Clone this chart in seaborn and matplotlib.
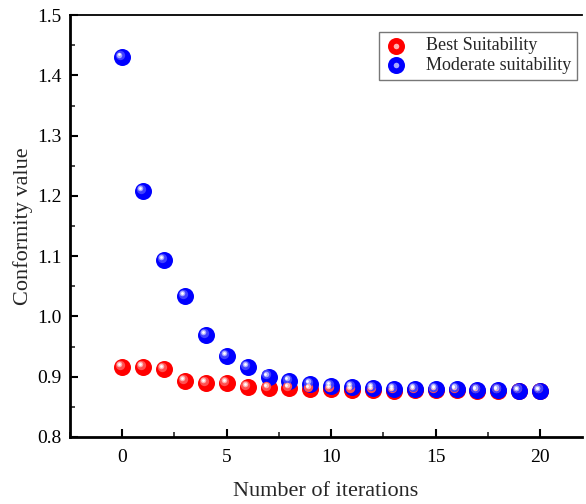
import numpy as np
import pandas as pd
import matplotlib
matplotlib.use('Agg')
import matplotlib.pyplot as plt
import seaborn as sns
from matplotlib.transforms import offset_copy
from matplotlib.ticker import MultipleLocator, FormatStrFormatter
from matplotlib.legend_handler import HandlerTuple

# --- data ---
iterations = list(range(21))
best = [0.916, 0.916, 0.913, 0.893, 0.890, 0.890, 0.883, 0.881, 0.881, 0.880, 0.880,
        0.878, 0.878, 0.877, 0.878, 0.878, 0.878, 0.877, 0.877, 0.877, 0.877]
moderate = [1.430, 1.208, 1.094, 1.034, 0.969, 0.934, 0.916, 0.900, 0.893, 0.888, 0.885,
            0.883, 0.881, 0.880, 0.880, 0.880, 0.880, 0.878, 0.878, 0.877, 0.877]
series_names = ['Best Suitability', 'Moderate suitability']

df = pd.DataFrame({
    'iter': iterations * 2,
    'value': best + moderate,
    'series': [series_names[0]] * 21 + [series_names[1]] * 21,
})

sns.set_style('white')
plt.rcParams['font.family'] = ['Liberation Serif', 'DejaVu Serif']

fig = plt.figure(figsize=(5.86, 5.04), dpi=100)
ax = fig.add_axes([0.1195, 0.133, 0.8735, 0.837])

# shaded "sphere" markers: base + highlights
shades = {
    series_names[0]: ['#ff0000', '#ff5050', '#ffb0b0', '#ffffff'],
    series_names[1]: ['#0000ff', '#4040ff', '#a8a8ff', '#ffffff'],
}
layers = [(150, 0, 0), (45, -1.6, 1.6), (16, -2.0, 2.0), (4, -2.2, 2.2)]
handles = {}
for name in series_names:
    sub = df[df['series'] == name]
    hs = []
    for i, ((s, dx, dy), c) in enumerate(zip(layers, shades[name])):
        tr = offset_copy(ax.transData, fig=fig, x=dx, y=dy, units='points')
        sns.scatterplot(x=sub['iter'].values, y=sub['value'].values, s=s, color=c,
                        linewidth=0, ax=ax, zorder=3 + i, legend=False)
        coll = ax.collections[-1]
        coll.set_offset_transform(tr)
        hs.append(coll)
    handles[name] = hs

ax.set_xlim(-2.5, 22)
ax.set_ylim(0.8, 1.5)
ax.xaxis.set_major_locator(MultipleLocator(5))
ax.xaxis.set_minor_locator(MultipleLocator(2.5))
ax.yaxis.set_major_locator(MultipleLocator(0.1))
ax.yaxis.set_minor_locator(MultipleLocator(0.05))
ax.yaxis.set_major_formatter(FormatStrFormatter('%.1f'))
ax.tick_params(which='major', direction='in', length=6, width=1.5, labelsize=14,
               bottom=True, left=True, colors='black')
ax.tick_params(which='minor', direction='in', length=3.5, width=1.2, bottom=True, left=True)
ax.tick_params(axis='x', pad=9)
ax.tick_params(axis='y', pad=6)

ax.spines['right'].set_visible(False)
for sp in ['left', 'bottom']:
    ax.spines[sp].set_linewidth(2)
    ax.spines[sp].set_color('black')
ax.spines['top'].set_linewidth(1.3)
ax.spines['top'].set_color('black')

ax.set_xlabel('Number of iterations', fontsize=16, labelpad=11)
ax.set_ylabel('Conformity value', fontsize=16, labelpad=3)

leg_handles = [tuple(handles[n][:1] + handles[n][2:3]) for n in series_names]
leg = ax.legend(leg_handles, series_names, loc='upper right', bbox_to_anchor=(0.99, 0.96),
                fontsize=13, frameon=True, fancybox=False, edgecolor='#555555',
                handler_map={tuple: HandlerTuple(ndivide=1, pad=0)},
                handlelength=1.3, handletextpad=1.0, borderpad=0.3, labelspacing=0.15,
                borderaxespad=0)
leg.get_frame().set_linewidth(1.0)

fig.savefig('out.png', dpi=100)
